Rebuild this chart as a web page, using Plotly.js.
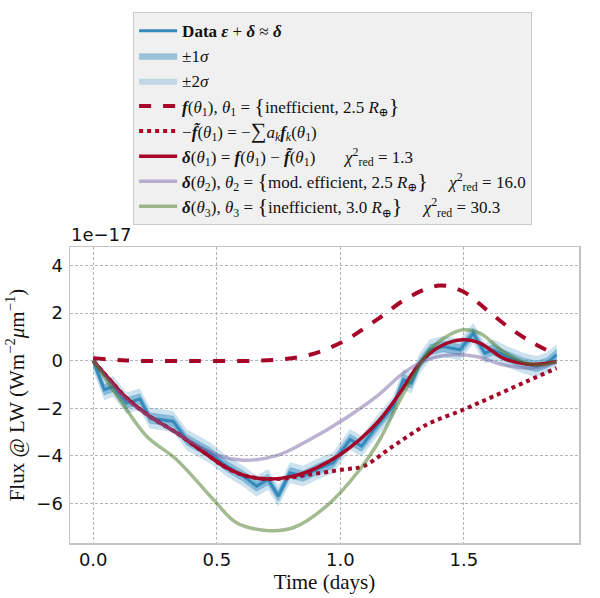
<!DOCTYPE html>
<html><head><meta charset="utf-8">
<script src="https://cdn.plot.ly/plotly-3.0.1.min.js"></script>
<style>body{margin:0;background:#fff}#c{width:600px;height:598px}</style>
</head><body><div id="c"></div>
<script>
// values in units of 1e-17 W m^-2 um^-1
const dataT = [0,0.045,0.081,0.135,0.189,0.229,0.324,0.378,0.472,0.540,0.607,0.661,0.708,0.749,0.796,0.850,0.904,0.971,1.039,1.086,1.147,1.214,1.255,1.288,1.322,1.363,1.416,1.484,1.538,1.585,1.619,1.673,1.740,1.794,1.835,1.875];
const dataY = [0,-1.22,-1.08,-1.78,-1.61,-2.41,-2.55,-3.32,-3.87,-4.43,-4.85,-5.27,-4.99,-5.69,-4.71,-4.85,-4.57,-4.29,-3.31,-3.59,-2.76,-1.92,-0.80,-0.94,-0.10,0.46,0.60,0.46,1.15,0.32,0.46,0.18,-0.10,-0.24,-0.10,0.25];
const sigma = [0.22,0.22,0.22,0.22,0.22,0.22,0.22,0.22,0.22,0.22,0.22,0.22,0.22,0.22,0.22,0.22,0.22,0.22,0.22,0.22,0.22,0.22,0.22,0.22,0.22,0.22,0.22,0.22,0.22,0.22,0.22,0.22,0.22,0.22,0.22,0.22];

const fT = [0,0.135,0.405,0.742,0.877,1.012,1.147,1.282,1.403,1.497,1.592,1.686,1.781,1.875];
const fY = [0.11,0.01,-0.01,0.04,0.25,0.81,1.72,2.70,3.16,2.91,2.14,1.37,0.74,0.25];

const negFtT = [0,0.067,0.135,0.229,0.337,0.432,0.540,0.621,0.742,0.877,1.012,1.093,1.214,1.349,1.497,1.619,1.754,1.875];
const negFtY = [0,-0.80,-1.57,-2.34,-3.03,-3.73,-4.50,-4.85,-4.97,-4.78,-4.57,-4.43,-3.59,-2.69,-2.06,-1.50,-0.87,-0.31];

const d1T = [0,0.067,0.135,0.229,0.337,0.432,0.540,0.621,0.715,0.809,0.904,1.0,1.079,1.160,1.241,1.322,1.403,1.497,1.565,1.659,1.754,1.821,1.875];
const d1Y = [0,-0.80,-1.57,-2.34,-3.03,-3.73,-4.50,-4.85,-4.97,-4.85,-4.50,-3.94,-3.31,-2.48,-1.36,-0.10,0.60,0.88,0.74,0.11,-0.14,-0.13,-0.03];

const d2T = [0,0.135,0.27,0.405,0.513,0.607,0.742,0.877,1.012,1.147,1.255,1.349,1.457,1.551,1.659,1.781,1.875];
const d2Y = [0,-1.64,-2.62,-3.45,-4.01,-4.18,-3.99,-3.31,-2.48,-1.50,-0.52,0.04,0.25,0.18,-0.17,-0.31,-0.07];

const d3T = [0,0.108,0.216,0.337,0.486,0.580,0.701,0.809,0.944,1.079,1.160,1.228,1.295,1.363,1.430,1.497,1.565,1.659,1.754,1.821,1.875];
const d3Y = [0,-1.64,-3.17,-4.15,-5.83,-6.81,-7.13,-7.02,-6.11,-4.57,-3.31,-1.92,-0.66,0.46,1.02,1.30,1.16,0.39,-0.10,-0.17,-0.03];

const xTicks = [0,0.5,1.0,1.5];
const xTickText = ['0.0','0.5','1.0','1.5'];
const yTicks = [-6,-4,-2,0,2,4];

function band(k){
  const up = dataY.map((v,i)=>v+k*sigma[i]);
  const lo = dataY.map((v,i)=>v-k*sigma[i]);
  return {x: dataT.concat(dataT.slice().reverse()), y: up.concat(lo.reverse())};
}
const b1 = band(1), b2 = band(2);
const NB = '\u00a0';
const sp = NB.repeat(7);
const serif = 'Liberation Serif, DejaVu Serif, serif';
const big = s => '<span style="font-size:22px">'+s+'</span>';

const traces = [
  {x:b2.x, y:b2.y, fill:'toself', mode:'lines', line:{width:0}, fillcolor:'rgba(52,138,189,0.25)',
   name:'±2<i>σ</i>', legendrank:3, legendgroup:'g3', hoverinfo:'skip'},
  {x:b1.x, y:b1.y, fill:'toself', mode:'lines', line:{width:0.8,color:'rgba(52,138,189,0.35)'}, fillcolor:'rgba(52,138,189,0.45)',
   name:'±1<i>σ</i>', legendrank:2, legendgroup:'g2', hoverinfo:'skip'},
  {x:dataT, y:dataY, mode:'lines', line:{color:'#348ABD', width:3},
   name:'<b>Data</b> <b><i>ε</i></b> + <b><i>δ</i></b> ≈ <b><i>δ</i></b>', legendrank:1, legendgroup:'g1'},
  {x:fT, y:fY, mode:'lines', line:{color:'#A60628', width:4, dash:'dash', shape:'spline'},
   name:'<b><i>f</i></b>(<i>θ</i><sub>1</sub>), <i>θ</i><sub>1</sub> = '+big('{')+'inefficient, 2.5 <i>R</i><sub>⊕</sub>'+big('}'), legendrank:4, legendgroup:'g4'},
  {x:negFtT, y:negFtY, mode:'lines', line:{color:'#A60628', width:4, dash:'dot', shape:'spline'},
   name:'−<b><i>f̃</i></b>(<i>θ</i><sub>1</sub>) = −'+big('∑')+'<i>a<sub>k</sub></i><b><i>f</i></b><sub><i>k</i></sub>(<i>θ</i><sub>1</sub>)', legendrank:5, legendgroup:'g5'},
  {x:d1T, y:d1Y, mode:'lines', line:{color:'#A60628', width:3.5, shape:'spline'},
   name:'<b><i>δ</i></b>(<i>θ</i><sub>1</sub>) = <b><i>f</i></b>(<i>θ</i><sub>1</sub>) − <b><i>f̃</i></b>(<i>θ</i><sub>1</sub>)'+sp+'<i>χ</i><sup>2</sup><sub>red</sub> = 1.3', legendrank:6, legendgroup:'g6'},
  {x:d2T, y:d2Y, mode:'lines', line:{color:'rgba(122,104,166,0.5)', width:3.5, shape:'spline'},
   name:'<b><i>δ</i></b>(<i>θ</i><sub>2</sub>), <i>θ</i><sub>2</sub> = '+big('{')+'mod. efficient, 2.5 <i>R</i><sub>⊕</sub>'+big('}')+NB.repeat(5)+'<i>χ</i><sup>2</sup><sub>red</sub> = 16.0', legendrank:7, legendgroup:'g7'},
  {x:d3T, y:d3Y, mode:'lines', line:{color:'rgba(70,120,33,0.5)', width:3.5, shape:'spline'},
   name:'<b><i>δ</i></b>(<i>θ</i><sub>3</sub>), <i>θ</i><sub>3</sub> = '+big('{')+'inefficient, 3.0 <i>R</i><sub>⊕</sub>'+big('}')+NB.repeat(5)+'<i>χ</i><sup>2</sup><sub>red</sub> = 30.3', legendrank:8, legendgroup:'g8'}
];

const layout = {
  width:600, height:598,
  margin:{l:70, r:21, t:247, b:55},
  paper_bgcolor:'#fff', plot_bgcolor:'#fff',
  showlegend:true,
  legend:{x:0.124, xanchor:'left', y:1.074, yanchor:'bottom', bgcolor:'#f0f0f0', bordercolor:'#cccccc', borderwidth:1,
          font:{family:serif, size:17, color:'#111'}, tracegroupgap:5, traceorder:'normal', itemwidth:38},
  xaxis:{range:[-0.094,1.966], tickvals:xTicks, ticktext:xTickText, showgrid:true, gridcolor:'#b5b5b5', griddash:'3px,2px', gridwidth:1,
         zeroline:false, showline:true, mirror:true, linecolor:'#c4c4c4', linewidth:1.5, ticks:'',
         tickfont:{family:'DejaVu Sans', size:18, color:'#111'},
         title:{text:'Time (days)', font:{family:serif, size:21, color:'#111'}, standoff:4}},
  yaxis:{range:[-7.66,4.78], tickvals:yTicks, showgrid:true, gridcolor:'#b5b5b5', griddash:'3px,2px', gridwidth:1,
         zeroline:false, showline:true, mirror:true, linecolor:'#c4c4c4', linewidth:1.5, ticks:'',
         tickfont:{family:'DejaVu Sans', size:18, color:'#111'}, ticklabelstandoff:2,
         title:{text:'Flux @ LW (Wm<sup>−2</sup><i>μ</i>m<sup>−1</sup>)', font:{family:serif, size:21, color:'#111'}, standoff:6}},
  annotations:[{xref:'paper', yref:'paper', x:-0.002, y:1, xanchor:'left', yanchor:'bottom', yshift:0, showarrow:false,
               text:'1e−17', font:{family:'DejaVu Sans', size:18, color:'#111'}}]
};
Plotly.newPlot('c', traces, layout, {displayModeBar:false, staticPlot:true});
</script></body></html>
